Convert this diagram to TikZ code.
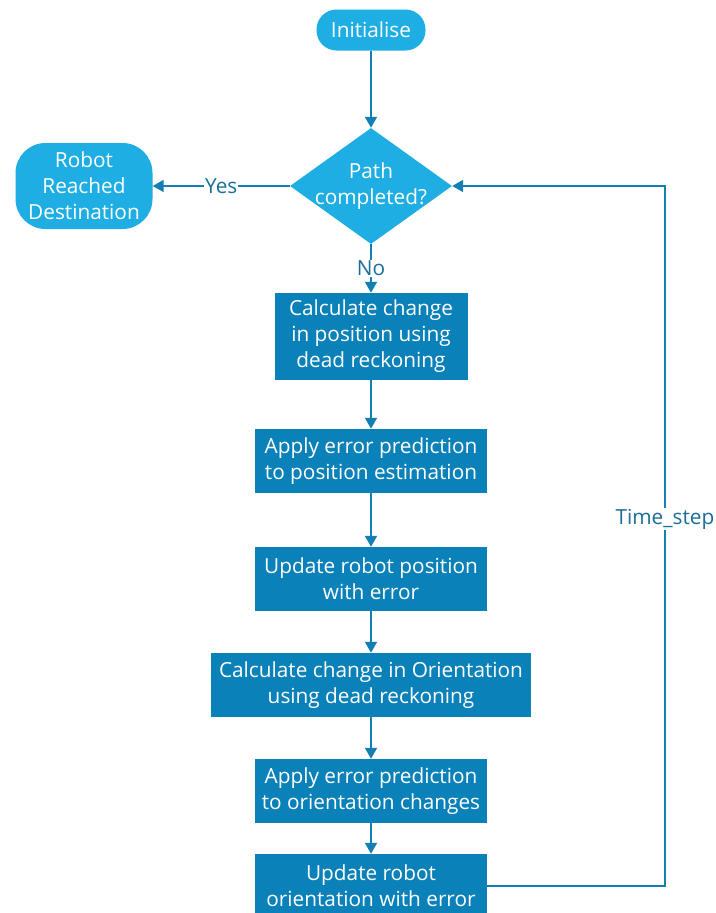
\documentclass[tikz,border=0pt]{standalone}
\usepackage{fontspec}
\setmainfont{Open Sans}
\usetikzlibrary{shapes.geometric,arrows.meta}
\definecolor{boxblue}{HTML}{0A81B9}
\definecolor{lightblue}{HTML}{1EAEE3}
\definecolor{linecol}{HTML}{137FB5}
\definecolor{labelcol}{HTML}{1B6E98}
\begin{document}
\begin{tikzpicture}[x=1pt,y=-1pt,
  font=\fontsize{20.8}{26}\selectfont,
  procbox/.style={rectangle, fill=boxblue, text=white, align=center, inner sep=0pt, minimum height=64pt},
  termbox/.style={rectangle, fill=lightblue, text=white, align=center, inner sep=0pt},
  decision/.style={diamond, fill=lightblue, inner sep=0pt},
  conn/.style={draw=linecol, line width=1.8pt, -{Triangle[length=11pt,width=12pt]}},
  lbl/.style={text=labelcol, fill=white, inner sep=1pt}]
\useasboundingbox (0,0) rectangle (715,913);

\node[termbox, rounded corners=20pt, minimum width=109pt, minimum height=41pt] (init) at (371,30) {Initialise};
\node[decision, minimum width=162pt, minimum height=116pt] (dec) at (371,186) {};
\node[text=white, align=center] (dectext) at (371,186) {Path\\completed?};
\node[termbox, rounded corners=30pt, minimum width=137pt, minimum height=86pt] (robot) at (84,186) {Robot\\Reached\\Destination};

\node[procbox, minimum width=193pt, minimum height=87pt] (b1) at (371,336.5) {Calculate change\\in position using\\dead reckoning};
\node[procbox, minimum width=232pt] (b2) at (371,461) {Apply error prediction\\to position estimation};
\node[procbox, minimum width=232pt] (b3) at (371,579) {Update robot position\\with error};
\node[procbox, minimum width=320pt] (b4) at (371,685) {Calculate change in Orientation\\using dead reckoning};
\node[procbox, minimum width=232pt] (b5) at (371,791) {Apply error prediction\\to orientation changes};
\node[procbox, minimum width=232pt] (b6) at (371,886) {Update robot\\orientation with error};

\coordinate (loop) at (665,186);

\draw[conn] (init) -- (dec);
\draw[conn] (dec.west) -- node[lbl] {Yes} (robot.east);
\draw[conn] (dec.south) -- node[lbl] {No} (b1.north);
\draw[conn] (b1) -- (b2);
\draw[conn] (b2) -- (b3);
\draw[conn] (b3) -- (b4);
\draw[conn] (b4) -- (b5);
\draw[conn] (b5) -- (b6);
\draw[conn] (b6.east) -| (loop) -- (dec.east);
\node[lbl] (ts) at (665,519) {Time\_step};
\end{tikzpicture}
\end{document}
